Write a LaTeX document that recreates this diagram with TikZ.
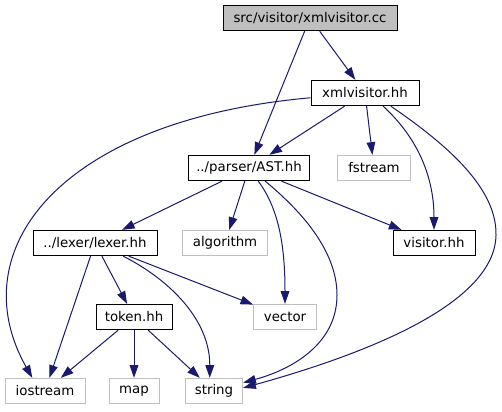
\documentclass[tikz,border=0pt]{standalone}
\usepackage{fontspec}
\setmainfont{DejaVu Sans}
\usetikzlibrary{arrows.meta}
\definecolor{edgeblue}{HTML}{191970}
\definecolor{sysgray}{HTML}{BFBFBF}

\begin{document}
\begin{tikzpicture}[x=0.75pt, y=-0.75pt,
        box/.style={draw=black, line width=0.75pt, rectangle, minimum height=19pt, inner sep=0pt, fill=white, font=\fontsize{10}{12}\selectfont},
        sysbox/.style={box, draw=sysgray},
        arrow/.style={edgeblue, line width=0.75pt, -{Triangle[length=9.5pt,width=6.5pt]}}
    ]
        \useasboundingbox (0,0) rectangle (502,411);

        \node[box, fill=sysgray, minimum width=130.5pt] (cc) at (310,18) {src/visitor/xmlvisitor.cc};
        \node[box, minimum width=81pt] (xhh) at (365,93) {xmlvisitor.hh};

        \node[box, minimum width=90.5pt] (ast) at (249,168) {../parser/AST.hh};
        \node[sysbox, minimum width=55pt] (fstream) at (374,168) {fstream};

        \node[box, minimum width=93pt] (lexer) at (95,243) {../lexer/lexer.hh};
        \node[sysbox, minimum width=64pt] (algorithm) at (225,243) {algorithm};
        \node[box, minimum width=61.5pt] (visitor) at (434,243) {visitor.hh};

        \node[box, minimum width=57pt] (token) at (134,317) {token.hh};
        \node[sysbox, minimum width=47pt] (vector) at (285,317) {vector};

        \node[sysbox, minimum width=60pt] (iostream) at (45,391) {iostream};
        \node[sysbox, minimum width=37.5pt] (map) at (134,391) {map};
        \node[sysbox, minimum width=43pt] (string) at (214,391) {string};

        \draw[arrow] (cc) -- (ast);
        \draw[arrow] (cc) -- (xhh);

        \draw[arrow] (xhh.185) .. controls (60,120) and (-40,250) .. (iostream.134);
        \draw[arrow] (xhh) -- (ast);
        \draw[arrow] (xhh) -- (fstream);
        \draw[arrow] (xhh.-36) .. controls (420,140) and (434,180) .. (visitor.north);
        \draw[arrow] (xhh.-27) .. controls (440,140) and (497,185) .. (496,235)
            .. controls (495,300) and (380,350) .. (string.6);

        \draw[arrow] (ast) -- (lexer);
        \draw[arrow] (ast) -- (algorithm);
        \draw[arrow] (ast.-55) .. controls (280,210) and (285,250) .. (vector.north);
        \draw[arrow] (ast.-39) .. controls (300,210) and (337,250) .. (337,295)
            .. controls (337,345) and (290,370) .. (string.16);
        \draw[arrow] (ast) -- (visitor);

        \draw[arrow] (lexer) -- (iostream);
        \draw[arrow] (lexer) -- (token);
        \draw[arrow] (lexer.-25) .. controls (170,280) and (210,320) .. (string.108);
        \draw[arrow] (lexer) -- (vector);

        \draw[arrow] (token) -- (iostream);
        \draw[arrow] (token) -- (map);
        \draw[arrow] (token) -- (string);
    \end{tikzpicture}
\end{document}
